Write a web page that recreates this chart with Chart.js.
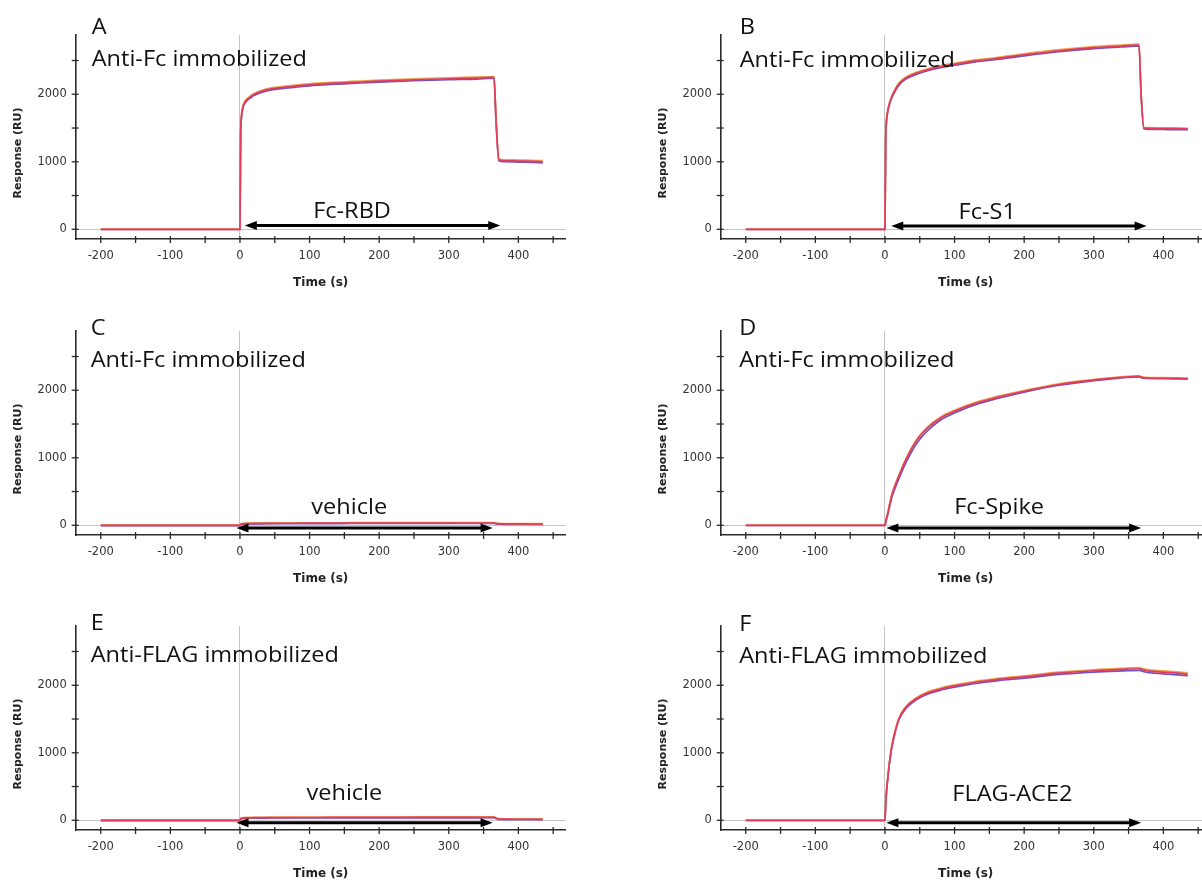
<!DOCTYPE html>
<html><head><meta charset="utf-8">
<script src="https://cdn.jsdelivr.net/npm/chart.js@4.4.0/dist/chart.umd.min.js"></script>
<style>
html,body{margin:0;padding:0;background:#fff;width:1202px;height:882px;overflow:hidden;position:relative}
canvas{position:absolute}
</style></head><body>
<canvas id="cA" width="600" height="290" style="left:0px;top:10px"></canvas>
<canvas id="cB" width="600" height="290" style="left:645px;top:10px"></canvas>
<canvas id="cC" width="600" height="290" style="left:0px;top:306px"></canvas>
<canvas id="cD" width="600" height="290" style="left:645px;top:306px"></canvas>
<canvas id="cE" width="600" height="290" style="left:0px;top:601px"></canvas>
<canvas id="cF" width="600" height="290" style="left:645px;top:601px"></canvas>
<script>
// ---- shared time base (s) ----
const time = [-200,-150,-100,-50,0,1,2,4,7,10,15,20,30,45,60,80,100,130,160,200,250,300,340,365,368,372,380,400,420,435];

// ---- Panel A: Fc-RBD ----
const rbdRed    = [0,0,0,0,0,1400,1650,1800,1880,1920,1960,1995,2040,2080,2100,2120,2140,2160,2175,2195,2215,2230,2240,2250,1600,1030,1015,1010,1005,1000];
const rbdOrange = [3,3,3,3,3,1420,1670,1815,1895,1935,1975,2010,2055,2095,2115,2135,2155,2175,2190,2210,2230,2245,2255,2262,1620,1045,1030,1025,1020,1016];
const rbdPurple = [-3,-3,-3,-3,-3,1380,1630,1785,1865,1905,1945,1980,2025,2065,2085,2105,2125,2145,2160,2180,2200,2215,2225,2238,1580,1015,1000,995,990,985];

// ---- Panel B: Fc-S1 ----
const s1Red    = [0,0,0,0,0,1300,1580,1750,1880,1965,2070,2150,2240,2310,2360,2410,2445,2495,2530,2585,2645,2690,2715,2730,2000,1500,1495,1490,1490,1488];
const s1Orange = [3,3,3,3,3,1315,1595,1765,1895,1980,2085,2165,2255,2325,2375,2425,2460,2510,2545,2600,2660,2705,2730,2745,2015,1512,1506,1502,1500,1498];
const s1Purple = [-3,-3,-3,-3,-3,1285,1565,1735,1865,1950,2055,2135,2225,2295,2345,2395,2430,2480,2515,2570,2630,2675,2700,2715,1985,1486,1480,1478,1476,1474];

// ---- Panel C: vehicle on anti-Fc ----
const vehFcRed    = [0,0,0,0,0,15,20,22,24,25,26,27,28,29,30,30,31,31,32,32,33,33,34,34,28,22,20,20,19,18];
const vehFcOrange = [5,5,5,5,5,21,26,28,30,31,32,33,34,35,36,36,37,37,38,38,39,39,40,40,34,28,26,25,24,24];
const vehFcPurple = [-4,-4,-4,-4,-4,10,14,16,18,19,20,21,22,23,24,24,25,25,26,26,27,27,28,28,22,16,14,14,13,12];

// ---- Panel D: Fc-Spike ----
const spikeRed    = [0,0,0,0,0,45,95,175,320,450,600,730,970,1250,1430,1590,1690,1805,1890,1985,2085,2150,2190,2205,2195,2185,2180,2178,2175,2172];
const spikeOrange = [4,4,4,4,4,55,105,188,335,465,615,745,985,1265,1445,1605,1705,1820,1905,1997,2096,2160,2200,2214,2204,2194,2188,2186,2183,2180];
const spikePurple = [-3,-3,-3,-3,-3,35,80,155,292,418,562,690,925,1205,1390,1560,1665,1785,1874,1973,2074,2142,2184,2198,2188,2178,2174,2172,2169,2166];

// ---- Panel E: vehicle on anti-FLAG ----
const vehFlagRed    = [0,0,0,0,0,20,28,32,35,36,37,38,39,40,40,41,41,42,42,42,43,43,43,44,30,18,16,15,15,14];
const vehFlagOrange = [5,5,5,5,5,26,34,38,41,42,43,44,45,46,46,47,47,48,48,48,49,49,49,50,36,24,22,21,21,20];
const vehFlagPurple = [-4,-4,-4,-4,-4,14,22,26,29,30,31,32,33,34,34,35,35,36,36,36,37,37,37,38,24,12,10,9,9,8];

// ---- Panel F: FLAG-ACE2 ----
const aceRed    = [0,0,0,0,0,220,400,620,900,1100,1330,1500,1670,1800,1880,1945,1990,2045,2085,2125,2180,2215,2235,2245,2240,2225,2210,2195,2180,2165];
const aceOrange = [4,4,4,4,4,235,415,635,915,1115,1345,1515,1685,1815,1895,1960,2005,2060,2100,2140,2195,2230,2250,2260,2255,2242,2228,2212,2198,2185];
const acePurple = [-3,-3,-3,-3,-3,205,385,605,885,1085,1315,1485,1655,1785,1863,1928,1972,2026,2066,2105,2160,2195,2213,2222,2216,2200,2185,2170,2155,2140];

// ---- ticks ----
const xTicks = [-200,-150,-100,-50,0,50,100,150,200,250,300,350,400,450];
const xTickLabels = [-200,-100,0,100,200,300,400];
const yTicks = [0,500,1000,1500,2000,2500];
const yTickLabels = [0,1000,2000];

// ---- panel texts and injection arrows (data units) ----
const panelLetters = ['A','B','C','D','E','F'];
const surfaces = ['Anti-Fc immobilized','Anti-Fc immobilized','Anti-Fc immobilized','Anti-Fc immobilized','Anti-FLAG immobilized','Anti-FLAG immobilized'];
const analytes = ['Fc-RBD','Fc-S1','vehicle','Fc-Spike','vehicle','FLAG-ACE2'];
const arrowStart = [7, 9, -5, 2, -5, 2];
const arrowEnd   = [374, 376, 363, 368, 363, 368];
const arrowLevel = [55, 50, -40, -40, -35, -35];
const analyteX = [161, 147, 157, 164, 150, 183];
const analyteY = [262, 247, 262, 262, 387, 372];

const panelSeries = [
  [rbdRed, rbdOrange, rbdPurple],
  [s1Red, s1Orange, s1Purple],
  [vehFcRed, vehFcOrange, vehFcPurple],
  [spikeRed, spikeOrange, spikePurple],
  [vehFlagRed, vehFlagOrange, vehFlagPurple],
  [aceRed, aceOrange, acePurple]
];

// layout (pixels, styling only)
const X_MIN = -236, X_MAX = 468, Y_MIN = -144, Y_MAX = 2878;
const colors = ['#e23b5c', '#f0a050', '#6d52c8'];
const textLayout = [
  {dx:16, letterDy:-1, titleDy:31},
  {dx:19, letterDy:-1, titleDy:31.5},
  {dx:15, letterDy:4.3, titleDy:36},
  {dx:18.5, letterDy:4.3, titleDy:36},
  {dx:15, letterDy:4.3, titleDy:36},
  {dx:18.5, letterDy:5, titleDy:37}
];

function drawStretched(ctx, text, x, y, align, baseline) {
  ctx.save();
  ctx.font = '21px "Open Sans"';
  ctx.fillStyle = '#111';
  ctx.textBaseline = baseline;
  ctx.textAlign = 'left';
  const sx = 1.12;
  const w = ctx.measureText(text).width * sx;
  const left = align === 'center' ? x - w / 2 : x;
  ctx.translate(left, y);
  ctx.scale(sx, 1);
  ctx.fillText(text, 0, 0);
  ctx.restore();
}

const decor = {
  id: 'decor',
  afterDraw(chart) {
    const p = chart.options.plugins.decor;
    const {ctx, chartArea: ca} = chart;
    const x = chart.scales.x, y = chart.scales.y;
    ctx.save();
    // crossing tick marks
    ctx.strokeStyle = '#2a2a2a'; ctx.lineWidth = 1.3;
    xTicks.forEach(v => {
      const px = x.getPixelForValue(v);
      ctx.beginPath(); ctx.moveTo(px, ca.bottom - 3); ctx.lineTo(px, ca.bottom + 4); ctx.stroke();
    });
    yTicks.forEach(v => {
      const py = y.getPixelForValue(v);
      ctx.beginPath(); ctx.moveTo(ca.left - 4, py); ctx.lineTo(ca.left + 3, py); ctx.stroke();
    });
    // injection arrow
    const ay = y.getPixelForValue(p.level);
    const xs = x.getPixelForValue(p.start), xe = x.getPixelForValue(p.end);
    const hl = 12, hw = 4.5;
    ctx.strokeStyle = '#000'; ctx.fillStyle = '#000'; ctx.lineWidth = 3;
    ctx.beginPath(); ctx.moveTo(xs + hl - 1, ay); ctx.lineTo(xe - hl + 1, ay); ctx.stroke();
    ctx.beginPath(); ctx.moveTo(xs, ay); ctx.lineTo(xs + hl, ay - hw); ctx.lineTo(xs + hl, ay + hw); ctx.closePath(); ctx.fill();
    ctx.beginPath(); ctx.moveTo(xe, ay); ctx.lineTo(xe - hl, ay - hw); ctx.lineTo(xe - hl, ay + hw); ctx.closePath(); ctx.fill();
    // texts
    drawStretched(ctx, p.analyte, x.getPixelForValue(p.labelX), y.getPixelForValue(p.labelY), 'center', 'middle');
    drawStretched(ctx, p.letter, ca.left + p.dx, ca.top + p.letterDy, 'left', 'alphabetic');
    drawStretched(ctx, p.title, ca.left + p.dx, ca.top + p.titleDy, 'left', 'alphabetic');
    // y-axis title
    ctx.translate(ca.left - 57.4, y.getPixelForValue(0) - 76.3);
    ctx.rotate(-Math.PI / 2);
    ctx.font = 'bold 11px "DejaVu Sans"';
    ctx.fillStyle = '#222';
    ctx.textAlign = 'center'; ctx.textBaseline = 'middle';
    ctx.fillText('Response (RU)', 0, 0);
    ctx.restore();
  }
};

const ids = ['cA','cB','cC','cD','cE','cF'];
ids.forEach((id, k) => {
  const datasets = panelSeries[k].map((vals, j) => ({
    data: vals.map((v, i) => ({x: time[i], y: v})),
    borderColor: colors[j],
    borderWidth: 1.7,
    pointRadius: 0,
    fill: false,
    cubicInterpolationMode: 'monotone'
  }));
  new Chart(document.getElementById(id), {
    type: 'line',
    data: {datasets},
    plugins: [decor],
    options: {
      responsive: false,
      animation: false,
      events: [],
      layout: {padding: {left: 0, right: 34.3, top: 25, bottom: 0}},
      plugins: {
        legend: {display: false},
        tooltip: {enabled: false},
        decor: {
          letter: panelLetters[k], title: surfaces[k], analyte: analytes[k],
          start: arrowStart[k], end: arrowEnd[k], level: arrowLevel[k],
          labelX: analyteX[k], labelY: analyteY[k],
          dx: textLayout[k].dx, letterDy: textLayout[k].letterDy, titleDy: textLayout[k].titleDy
        }
      },
      scales: {
        x: {
          type: 'linear', min: X_MIN, max: X_MAX,
          afterFit: s => { s.height = 61; },
          afterBuildTicks: s => { s.ticks = xTicks.map(v => ({value: v})); },
          border: {display: true, color: '#2a2a2a', width: 1.6},
          grid: {drawTicks: false, lineWidth: 1, color: c => (c.tick && c.tick.value === 0) ? '#c4c4c4' : 'rgba(0,0,0,0)'},
          ticks: {autoSkip: false, maxRotation: 0, padding: 10, color: '#333',
                  font: {family: '"DejaVu Sans"', size: 11.5},
                  callback: v => xTickLabels.includes(v) ? String(v) : ''},
          title: {display: true, text: 'Time (s)', color: '#222',
                  font: {family: '"DejaVu Sans"', size: 12, weight: 'bold'},
                  padding: {top: 0, bottom: 10}}
        },
        y: {
          type: 'linear', min: Y_MIN, max: Y_MAX,
          afterFit: s => { s.width = 75.7; },
          afterBuildTicks: s => { s.ticks = yTicks.map(v => ({value: v})); },
          border: {display: true, color: '#2a2a2a', width: 1.6},
          grid: {drawTicks: false, lineWidth: 1, color: c => (c.tick && c.tick.value === 0) ? '#c4c4c4' : 'rgba(0,0,0,0)'},
          ticks: {autoSkip: false, padding: 9, color: '#333',
                  font: {family: '"DejaVu Sans"', size: 11.5},
                  callback: v => yTickLabels.includes(v) ? String(v) : ''}
        }
      }
    }
  });
});
</script>
</body></html>
